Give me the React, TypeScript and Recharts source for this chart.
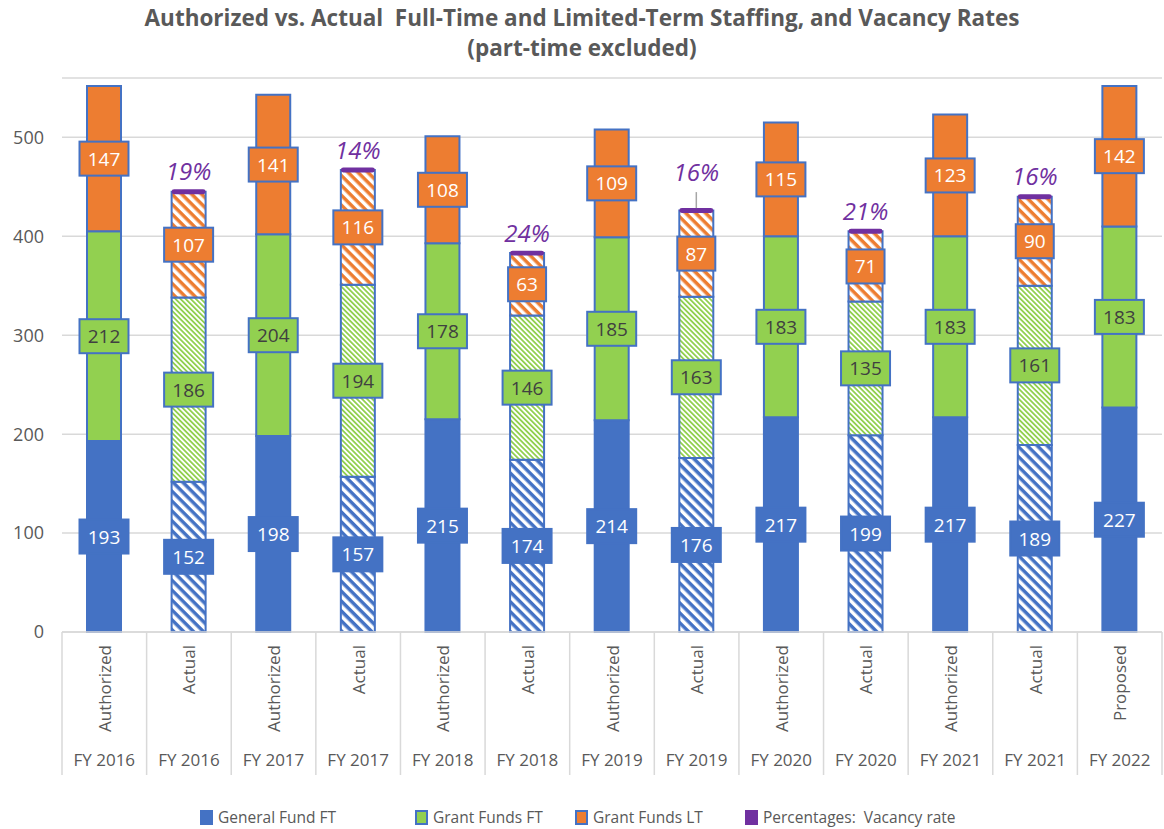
import { BarChart, Bar, XAxis, YAxis, CartesianGrid, Cell, LabelList } from "recharts";

const kinds = ["Authorized", "Actual", "Authorized", "Actual", "Authorized", "Actual", "Authorized", "Actual", "Authorized", "Actual", "Authorized", "Actual", "Proposed"];
const fiscalYears = ["FY 2016", "FY 2016", "FY 2017", "FY 2017", "FY 2018", "FY 2018", "FY 2019", "FY 2019", "FY 2020", "FY 2020", "FY 2021", "FY 2021", "FY 2022"];
const generalFundFT = [193, 152, 198, 157, 215, 174, 214, 176, 217, 199, 217, 189, 227];
const grantFundsFT = [212, 186, 204, 194, 178, 146, 185, 163, 183, 135, 183, 161, 183];
const grantFundsLT = [147, 107, 141, 116, 108, 63, 109, 87, 115, 71, 123, 90, 142];
const vacancyRate = [null, 19, null, 14, null, 24, null, 16, null, 21, null, 16, null];
const yTicks = [0, 100, 200, 300, 400, 500];
// thin marker on top of the actual bars, carries the vacancy label
const vacancyMarker = 5;

const BLUE = "#4472C4";
const GREEN = "#92D050";
const ORANGE = "#ED7D31";
const PURPLE = "#7030A0";
const GRAY = "#595959";
const GRID = "#d9d9d9";
const FONT = "'Open Sans', sans-serif";

const data = kinds.map((kind, i) => ({
  key: `${kind} ${fiscalYears[i]}`,
  kind,
  fy: fiscalYears[i],
  gf: generalFundFT[i],
  gft: grantFundsFT[i],
  glt: grantFundsLT[i],
  vac: vacancyRate[i] == null ? null : vacancyMarker,
  pct: vacancyRate[i],
}));

const boxLabel = (fill: string, textColor: string) => (props: any) => {
  const { x, y, width, height, value } = props;
  if (value == null) return null;
  const cx = Number(x) + Number(width) / 2;
  const cy = Number(y) + Number(height) / 2;
  const w = String(value).length * 11 + 16;
  return (
    <g>
      <rect x={cx - w / 2} y={cy - 17} width={w} height={34} fill={fill} stroke={BLUE} strokeWidth={2} />
      <text x={cx} y={cy} textAnchor="middle" dominantBaseline="central" fill={textColor} fontSize={19} fontFamily={FONT}>
        {value}
      </text>
    </g>
  );
};

// marker sits centred on the top edge of the actual bar, like the original
const VacancyMarker = (props: any) => {
  const { x, y, width, height } = props;
  if (!height) return null;
  return (
    <rect
      x={Number(x)}
      y={Number(y) + Number(height) / 2}
      width={Number(width)}
      height={Number(height)}
      rx={2.5}
      fill={PURPLE}
    />
  );
};

const VacancyLabel = (props: any) => {
  const { x, y, width, height, value } = props;
  const row = data.find((d) => d.key === value);
  if (!row || row.pct == null) return null;
  const cx = Number(x) + Number(width) / 2;
  const top = Number(y) + Number(height) / 2;
  // FY 2019 label was dragged up in the original, with a leader line
  const lifted = row.key === "Actual FY 2019";
  const base = lifted ? top - 27 : top - 9;
  return (
    <g>
      {lifted && <line x1={cx} x2={cx} y1={top} y2={top - 16} stroke="#a6a6a6" strokeWidth={1.5} />}
      <text x={cx} y={base} textAnchor="middle" fill={PURPLE} fontSize={24} fontStyle="italic" fontFamily={FONT}>
        {row.pct}%
      </text>
    </g>
  );
};

const CategoryTick = (props: any) => {
  const { x, y, payload } = props;
  const row = data[payload.index];
  const half = payload.offset ?? (1164 - 62 - 2) / 13 / 2;
  const last = payload.index === data.length - 1;
  return (
    <g>
      <line x1={x - half} x2={x - half} y1={y} y2={y + 143} stroke={GRID} strokeWidth={1.5} />
      {last && <line x1={x + half} x2={x + half} y1={y} y2={y + 143} stroke={GRID} strokeWidth={1.5} />}
      <text
        transform={`translate(${x},${y + 13}) rotate(-90)`}
        textAnchor="end"
        dominantBaseline="central"
        fill={GRAY}
        fontSize={17}
        fontFamily={FONT}
      >
        {row.kind}
      </text>
      <text x={x} y={y + 134} textAnchor="middle" fill={GRAY} fontSize={17} fontFamily={FONT}>
        {row.fy}
      </text>
    </g>
  );
};

const legendItems = [
  { name: "General Fund FT", color: BLUE, border: BLUE, left: 200 },
  { name: "Grant Funds FT", color: GREEN, border: BLUE, left: 415 },
  { name: "Grant Funds LT", color: ORANGE, border: BLUE, left: 575 },
  { name: "Percentages:  Vacancy rate", color: PURPLE, border: PURPLE, left: 745 },
];

export default function App() {
  return (
    <div style={{ position: "absolute", left: 0, top: 0, width: 1164, height: 829, background: "#fff", fontFamily: FONT }}>
      <div
        style={{
          position: "absolute",
          top: 3,
          left: 0,
          width: 1164,
          textAlign: "center",
          fontWeight: 700,
          fontSize: 22.5,
          lineHeight: "30px",
          color: GRAY,
          whiteSpace: "pre",
        }}
      >
        {"Authorized vs. Actual  Full-Time and Limited-Term Staffing, and Vacancy Rates\n(part-time excluded)"}
      </div>
      <BarChart width={1164} height={829} data={data} margin={{ top: 78, right: 2, bottom: 51, left: 8 }}>
        <defs>
          <pattern id="hatchBlue" patternUnits="userSpaceOnUse" width={7} height={7} patternTransform="rotate(45)">
            <rect width={7} height={7} fill="#fff" />
            <rect width={7} height={3.5} fill={BLUE} />
          </pattern>
          <pattern id="hatchGreen" patternUnits="userSpaceOnUse" width={3.6} height={3.6} patternTransform="rotate(45)">
            <rect width={3.6} height={3.6} fill="#fff" />
            <rect width={3.6} height={1.8} fill={GREEN} />
          </pattern>
          <pattern id="hatchOrange" patternUnits="userSpaceOnUse" width={7} height={7} patternTransform="rotate(45)">
            <rect width={7} height={7} fill="#fff" />
            <rect width={7} height={3.5} fill={ORANGE} />
          </pattern>
        </defs>
        <CartesianGrid vertical={false} stroke={GRID} strokeWidth={1.5} />
        <XAxis
          dataKey="key"
          interval={0}
          height={146}
          tickLine={false}
          tickSize={0}
          tickMargin={0}
          axisLine={{ stroke: GRID, strokeWidth: 1.5 }}
          tick={<CategoryTick />}
        />
        <YAxis
          width={54}
          domain={[0, 560]}
          ticks={yTicks}
          axisLine={false}
          tickLine={false}
          tickSize={6}
          tickMargin={12}
          tick={{ fill: GRAY, fontSize: 18, fontFamily: FONT }}
        />
        <Bar dataKey="gf" stackId="s" barSize={34} stroke={BLUE} strokeWidth={2} isAnimationActive={false}>
          {data.map((d, i) => (
            <Cell key={i} fill={d.kind === "Actual" ? "url(#hatchBlue)" : BLUE} />
          ))}
          <LabelList dataKey="gf" content={boxLabel(BLUE, "#fff")} />
        </Bar>
        <Bar dataKey="gft" stackId="s" barSize={34} stroke={BLUE} strokeWidth={2} isAnimationActive={false}>
          {data.map((d, i) => (
            <Cell key={i} fill={d.kind === "Actual" ? "url(#hatchGreen)" : GREEN} />
          ))}
          <LabelList dataKey="gft" content={boxLabel(GREEN, "#404040")} />
        </Bar>
        <Bar dataKey="glt" stackId="s" barSize={34} stroke={BLUE} strokeWidth={2} isAnimationActive={false}>
          {data.map((d, i) => (
            <Cell key={i} fill={d.kind === "Actual" ? "url(#hatchOrange)" : ORANGE} />
          ))}
          <LabelList dataKey="glt" content={boxLabel(ORANGE, "#fff")} />
        </Bar>
        <Bar dataKey="vac" stackId="s" barSize={37} fill={PURPLE} shape={<VacancyMarker />} isAnimationActive={false}>
          <LabelList dataKey="key" content={<VacancyLabel />} />
        </Bar>
      </BarChart>
      {legendItems.map((item) => (
        <div
          key={item.name}
          style={{
            position: "absolute",
            top: 807,
            left: item.left,
            height: 20,
            display: "flex",
            alignItems: "center",
            gap: 5,
            fontSize: 15.5,
            color: GRAY,
            whiteSpace: "pre",
          }}
        >
          <span
            style={{
              display: "inline-block",
              width: 9,
              height: 11,
              background: item.color,
              border: `2px solid ${item.border}`,
            }}
          />
          {item.name}
        </div>
      ))}
    </div>
  );
}
